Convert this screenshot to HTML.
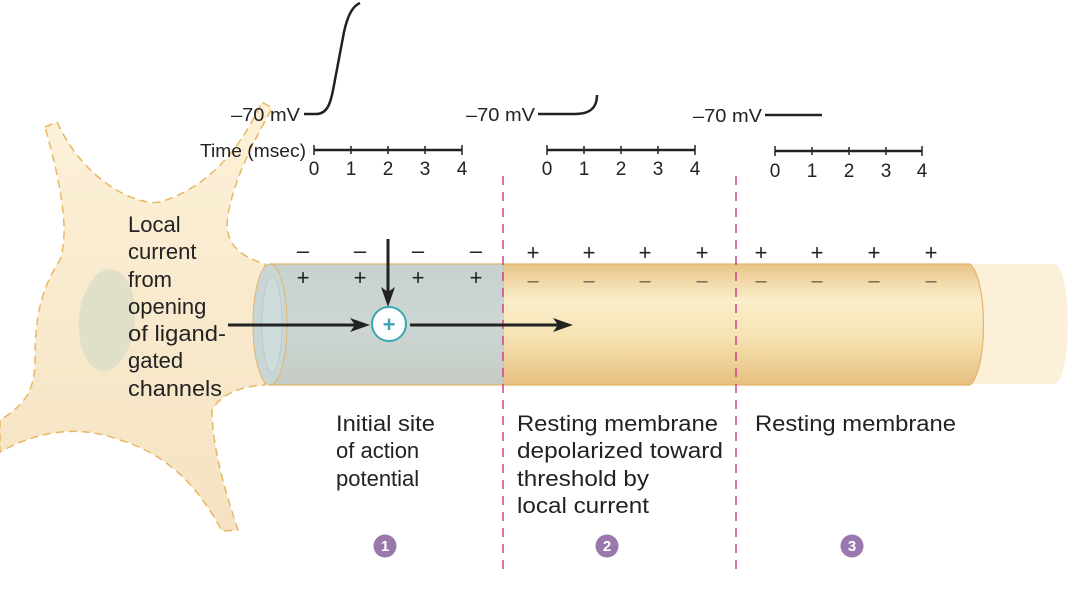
<!DOCTYPE html>
<html><head><meta charset="utf-8"><style>
html,body{margin:0;padding:0;background:#fff;}
svg{display:block;font-family:"Liberation Sans",sans-serif;}
</style></head><body>
<svg width="1084" height="610" viewBox="0 0 1084 610" xmlns="http://www.w3.org/2000/svg">
<defs>
<linearGradient id="tan" x1="0" y1="0" x2="0" y2="1">
<stop offset="0" stop-color="#e8c488"/><stop offset="0.3" stop-color="#fbeecb"/><stop offset="0.6" stop-color="#f6e3b3"/><stop offset="1" stop-color="#e6c07f"/>
</linearGradient>
<linearGradient id="gray" x1="0" y1="0" x2="0" y2="1">
<stop offset="0" stop-color="#c7d2d0"/><stop offset="0.5" stop-color="#cdd6d3"/><stop offset="1" stop-color="#c4ccc4"/>
</linearGradient>
<linearGradient id="body" x1="0" y1="0" x2="0" y2="1">
<stop offset="0" stop-color="#fcf1d8"/><stop offset="1" stop-color="#f5e2c2"/>
</linearGradient>
</defs>
<path d="M45,127 L57,122 C70,150 90,175 120,192 C135,200 150,204 160,202 C200,190 235,160 262,102 L272,108 C255,140 235,175 228,215 C224,240 235,255 265,264 L265,385 C245,386 222,392 212,410 C212,450 228,500 238,530 L222,531 C200,490 170,455 120,440 C80,425 40,430 0,452 L0,420 C25,405 35,390 35,360 C35,320 40,290 60,260 C70,230 60,180 45,127 Z" fill="url(#body)" stroke="#e8b760" stroke-width="1.5" stroke-dasharray="8,5"/>
<ellipse cx="107" cy="320" rx="28" ry="51" transform="rotate(5 107 320)" fill="#e0dfc8"/>
<path d="M965,264 L1055,264 C1072,270 1072,378 1055,384 L965,384 Z" fill="#fcf0d8"/>
<path d="M503,264 L970,264 C988,280 988,370 970,385 L503,385 Z" fill="url(#tan)" stroke="#e2b56a" stroke-width="1.2"/>
<rect x="270" y="264" width="233" height="121" fill="url(#gray)"/>
<line x1="270" y1="264" x2="503" y2="264" stroke="#e2b56a" stroke-width="1.2"/>
<line x1="270" y1="385" x2="503" y2="385" stroke="#e2b56a" stroke-width="1.2"/>
<ellipse cx="270" cy="324.5" rx="17" ry="60.5" fill="#c9d6d6" stroke="#e2b56a" stroke-width="1"/>
<ellipse cx="272" cy="324.5" rx="10" ry="48" fill="#cfdcdc" stroke="#bfcaca" stroke-width="1"/>
<line x1="503" y1="176" x2="503" y2="570" stroke="#d0408a" stroke-width="1.5" stroke-dasharray="9,7"/>
<line x1="736" y1="176" x2="736" y2="570" stroke="#d0408a" stroke-width="1.5" stroke-dasharray="9,7"/>
<g font-size="22" fill="#222" text-anchor="middle">
<text x="303" y="258">–</text><text x="360" y="258">–</text><text x="418" y="258">–</text><text x="476" y="258">–</text>
<text x="303" y="285">+</text><text x="360" y="285">+</text><text x="418" y="285">+</text><text x="476" y="285">+</text>
<text x="533" y="260">+</text><text x="589" y="260">+</text><text x="645" y="260">+</text><text x="702" y="260">+</text>
<text x="761" y="260">+</text><text x="817" y="260">+</text><text x="874" y="260">+</text><text x="931" y="260">+</text>
</g>
<g font-size="20" fill="#6e6450" text-anchor="middle">
<text x="533" y="287">–</text><text x="589" y="287">–</text><text x="645" y="287">–</text><text x="702" y="287">–</text>
<text x="761" y="287">–</text><text x="817" y="287">–</text><text x="874" y="287">–</text><text x="931" y="287">–</text>
</g>
<g stroke="#222" stroke-width="3" fill="none">
<line x1="228" y1="325" x2="358" y2="325"/>
<line x1="410" y1="325" x2="560" y2="325"/>
<line x1="388" y1="239" x2="388" y2="295"/>
</g>
<g fill="#222">
<path d="M370,325 L350,318 L355,325 L350,332 Z"/>
<path d="M573,325 L553,318 L558,325 L553,332 Z"/>
<path d="M388,307 L381,287 L388,292 L395,287 Z"/>
</g>
<circle cx="389" cy="324" r="17" fill="#fff" stroke="#3aa5b5" stroke-width="2"/>
<text x="389" y="332" font-size="22" font-weight="bold" fill="#3aa5b5" text-anchor="middle">+</text>
<g stroke="#222" stroke-width="2.5" fill="none">
<line x1="314" y1="150" x2="462" y2="150"/>
<line x1="547" y1="150" x2="695" y2="150"/>
<line x1="775" y1="151" x2="922" y2="151"/>
<path d="M304,114 L316,114 C328,114 331,102 334,85 L344,32 C348,14 353,6 360,3"/>
<path d="M538,114 L575,114 C590,114 597,108 597,95"/>
<line x1="765" y1="115" x2="822" y2="115"/>
</g>
<g stroke="#222" stroke-width="1.5">
<line x1="314" y1="145" x2="314" y2="155"/><line x1="351" y1="146" x2="351" y2="154"/><line x1="388" y1="146" x2="388" y2="154"/><line x1="425" y1="146" x2="425" y2="154"/><line x1="462" y1="145" x2="462" y2="155"/>
<line x1="547" y1="145" x2="547" y2="155"/><line x1="584" y1="146" x2="584" y2="154"/><line x1="621" y1="146" x2="621" y2="154"/><line x1="658" y1="146" x2="658" y2="154"/><line x1="695" y1="145" x2="695" y2="155"/>
<line x1="775" y1="146" x2="775" y2="156"/><line x1="812" y1="147" x2="812" y2="155"/><line x1="849" y1="147" x2="849" y2="155"/><line x1="886" y1="147" x2="886" y2="155"/><line x1="922" y1="146" x2="922" y2="156"/>
</g>
<g font-size="19" fill="#222" text-anchor="middle">
<text x="314" y="175">0</text><text x="351" y="175">1</text><text x="388" y="175">2</text><text x="425" y="175">3</text><text x="462" y="175">4</text>
<text x="547" y="175">0</text><text x="584" y="175">1</text><text x="621" y="175">2</text><text x="658" y="175">3</text><text x="695" y="175">4</text>
<text x="775" y="177">0</text><text x="812" y="177">1</text><text x="849" y="177">2</text><text x="886" y="177">3</text><text x="922" y="177">4</text>
</g>
<g font-size="18" fill="#222" text-anchor="end">
<text x="300" y="121" textLength="69" lengthAdjust="spacingAndGlyphs">–70 mV</text>
<text x="535" y="121" textLength="69" lengthAdjust="spacingAndGlyphs">–70 mV</text>
<text x="762" y="122" textLength="69" lengthAdjust="spacingAndGlyphs">–70 mV</text>
<text x="306" y="157" textLength="106" lengthAdjust="spacingAndGlyphs">Time (msec)</text>
</g>
<g font-size="22" fill="#222">
<text x="128" y="232">Local</text>
<text x="128" y="259">current</text>
<text x="128" y="287">from</text>
<text x="128" y="314">opening</text>
<text x="128" y="341" textLength="98" lengthAdjust="spacingAndGlyphs">of ligand-</text>
<text x="128" y="368">gated</text>
<text x="128" y="396" textLength="94" lengthAdjust="spacingAndGlyphs">channels</text>
<text x="336" y="431" textLength="99" lengthAdjust="spacingAndGlyphs">Initial site</text>
<text x="336" y="458">of action</text>
<text x="336" y="486">potential</text>
<text x="517" y="431" textLength="201" lengthAdjust="spacingAndGlyphs">Resting membrane</text>
<text x="517" y="458" textLength="206" lengthAdjust="spacingAndGlyphs">depolarized toward</text>
<text x="517" y="486" textLength="132" lengthAdjust="spacingAndGlyphs">threshold by</text>
<text x="517" y="513" textLength="132" lengthAdjust="spacingAndGlyphs">local current</text>
<text x="755" y="431" textLength="201" lengthAdjust="spacingAndGlyphs">Resting membrane</text>
</g>
<g fill="#9a78ad"><circle cx="385" cy="546" r="11.5"/><circle cx="607" cy="546" r="11.5"/><circle cx="852" cy="546" r="11.5"/></g>
<g font-size="15" font-weight="bold" fill="#fff" text-anchor="middle">
<text x="385" y="551">1</text><text x="607" y="551">2</text><text x="852" y="551">3</text>
</g>
</svg>
</body></html>
